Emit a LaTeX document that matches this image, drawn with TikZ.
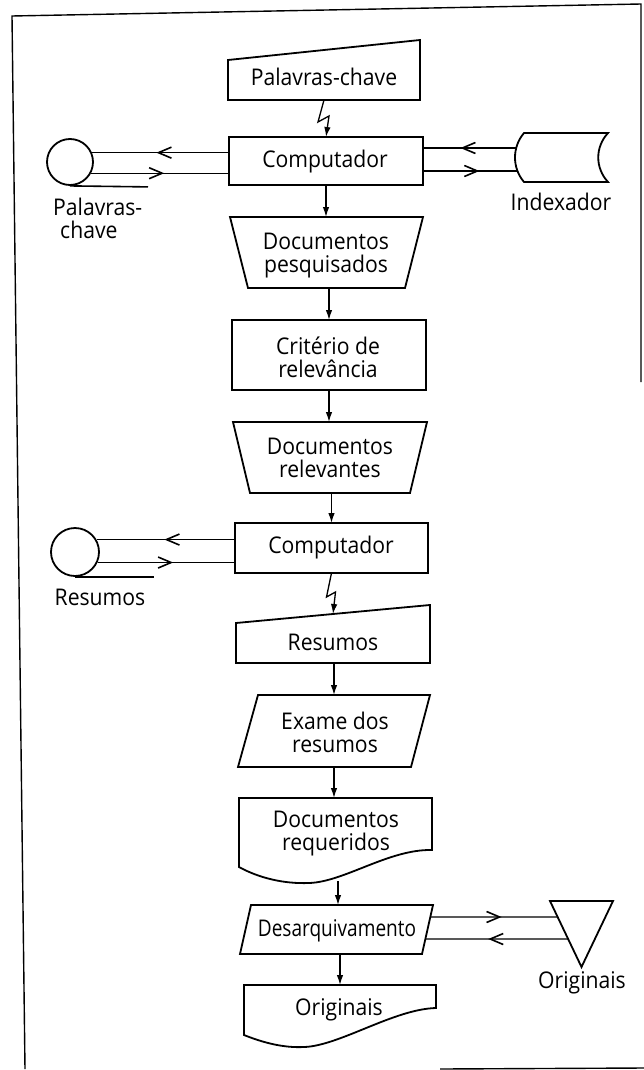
\documentclass[tikz,border=0pt]{standalone}
\usepackage{fontspec}
\usepackage{graphicx}
\setmainfont{Open Sans}[FakeStretch=0.92]
\usetikzlibrary{arrows.meta,calc,decorations.markings}
\begin{document}
\begin{tikzpicture}[x=1pt,y=-1pt,
  shp/.style={draw,line width=1.8pt,line join=miter},
  conn/.style={line width=1.3pt},
  varr/.style={conn,-{Latex[length=10pt,width=6.5pt]}},
  midarr/.style={conn,postaction={decorate},decoration={markings,mark=at position #1 with {\arrow{Straight Barb[length=13pt,width=11pt,line width=1.6pt]}}}},
  frameline/.style={line width=1.4pt},
  area/.style={inner sep=0pt,outer sep=0pt,draw=none,rectangle},
  txt/.style={font=\fontsize{23}{23}\selectfont,align=center,inner sep=0pt},
]
\useasboundingbox (0,0) rectangle (644,1070);

% frame
\draw[frameline] (25,1069) -- (12,16) -- (641,4) -- (641,382);
\draw[frameline] (440,1069) -- (644,1068);

% ---------- areas of the symbols ----------
\node[area,minimum width=192pt,minimum height=60pt] (pal) at (324,70) {};
\node[area,minimum width=194pt,minimum height=48pt] (comp1) at (326,161) {};
\node[area,minimum width=193pt,minimum height=71pt] (dp) at (326.5,252.5) {};
\node[area,minimum width=194pt,minimum height=70pt] (crit) at (329,355) {};
\node[area,minimum width=194pt,minimum height=71pt] (drel) at (330,457.5) {};
\node[area,minimum width=193pt,minimum height=50pt] (comp2) at (331.5,548) {};
\node[area,minimum width=194pt,minimum height=58pt] (res) at (333,634) {};
\node[area,minimum width=192pt,minimum height=72pt] (ex) at (334,731) {};
\node[area,minimum width=193pt,minimum height=85pt] (dreq) at (335.5,840.5) {};
\node[area,minimum width=193pt,minimum height=49pt] (ds) at (336.5,929.5) {};
\node[area,minimum width=192pt,minimum height=62pt] (orig) at (340,1016) {};
\node[area,minimum width=93pt,minimum height=49pt] (idx) at (561.5,157.5) {};
\node[area,minimum width=63pt,minimum height=66pt] (tri) at (581.5,934) {};
\node[draw,circle,line width=1.8pt,minimum size=46pt,inner sep=0pt] (tape1) at (70,162) {};
\node[draw,circle,line width=1.8pt,minimum size=48pt,inner sep=0pt] (tape2) at (75,552) {};

% ---------- symbol outlines ----------
\draw[shp] (pal.south west) -- (pal.south east) -- (pal.north east) -- ($(pal.north west)+(0,20)$) -- cycle;
\draw[shp] (comp1.south west) rectangle (comp1.north east);
\draw[shp] (dp.north west) -- (dp.north east) -- ($(dp.south east)+(-18,0)$) -- ($(dp.south west)+(18,0)$) -- cycle;
\draw[shp] (crit.south west) rectangle (crit.north east);
\draw[shp] (drel.north west) -- (drel.north east) -- ($(drel.south east)+(-17,0)$) -- ($(drel.south west)+(17,0)$) -- cycle;
\draw[shp] (comp2.south west) rectangle (comp2.north east);
\draw[shp] (res.south west) -- (res.south east) -- (res.north east) -- ($(res.north west)+(0,18)$) -- cycle;
\draw[shp] ($(ex.north west)+(20,0)$) -- (ex.north east) -- ($(ex.south east)+(-19,0)$) -- (ex.south west) -- cycle;
\draw[shp] (dreq.north west) -- (dreq.north east) -- ($(dreq.south west)+(193,-33)$)
   .. controls ($(dreq.south west)+(150,-34)$) and ($(dreq.south west)+(105,-1)$) .. ($(dreq.south west)+(70,0)$)
   .. controls ($(dreq.south west)+(45,1)$) and ($(dreq.south west)+(20,-5)$) .. ($(dreq.south west)+(0,-16)$) -- cycle;
\coordinate (dsSE) at ($(ds.south east)+(-11,0)$);
\draw[shp] ($(ds.north west)+(11,0)$) -- (ds.north east) -- (dsSE) -- (ds.south west) -- cycle;
\draw[shp] (orig.north west) -- (orig.north east) -- ($(orig.south west)+(192,-39)$)
   .. controls ($(orig.south west)+(150,-38)$) and ($(orig.south west)+(95,-1)$) .. ($(orig.south west)+(60,0)$)
   .. controls ($(orig.south west)+(40,1)$) and ($(orig.south west)+(20,-4)$) .. ($(orig.south west)+(0,-12)$) -- cycle;
\draw[shp] ($(idx.north west)+(9,0)$) -- (idx.north east)
   .. controls ($(idx.north east)+(-13,14)$) and ($(idx.south east)+(-13,-14)$) .. (idx.south east)
   -- ($(idx.south west)+(9,0)$)
   .. controls ($(idx.south west)+(-3,-14)$) and ($(idx.north west)+(-3,14)$) .. ($(idx.north west)+(9,0)$) -- cycle;
\draw[shp] (tri.north west) -- (tri.north east) -- (tri.south) -- cycle;
\draw[conn,line width=1.6pt] (tape1.south) -- ++(78,1);
\draw[conn,line width=1.6pt] (tape2.south) -- ++(79,0);

% ---------- texts ----------
\node[txt] (palt) at (324,77) {Palavras-chave};
\node[txt] (comp1t) at (325,162) {Computador};
\node[txt] (dpt) at (326,256) {Documentos\\pesquisados};
\node[txt] (critt) at (328,357) {Critério de\\relevância};
\node[txt] (drelt) at (330,458) {Documentos\\relevantes};
\node[txt] (comp2t) at (331,548) {Computador};
\node[txt] (rest) at (333,642) {Resumos};
\node[txt] (ext) at (335,732) {Exame dos\\resumos};
\node[txt] (dreqt) at (336,834) {Documentos\\requeridos};
\node[txt] (dst) at (337,931) {\scalebox{0.9}[1]{Desarquivamento}};
\node[txt] (origt) at (339,1010) {Originais};
\node[txt,align=left,anchor=west] (lab1) at (53,218) {Palavras-\\\hspace*{7pt}chave};
\node[txt] (lab2) at (100,597) {Resumos};
\node[txt] (lab3) at (561,202) {Indexador};
\node[txt] (lab4) at (582,983) {Originais};

% ---------- connectors ----------
\draw[varr] (pal.south) -- ++(-6,22) -- ++(11,-6) -- (comp1.north);
\draw[varr] (comp1.south) -- (comp1.south |- dp.north);
\draw[varr] (crit.north |- dp.south) -- (crit.north);
\draw[varr] (crit.south) -- (crit.south |- drel.north);
\draw[varr] (comp2.north |- drel.south) -- (comp2.north);
\coordinate (resTop) at ($(res.north)+(0,9)$);
\draw[varr] (comp2.south) -- ++(-5,24) -- ++(9,-5) -- (resTop);
\draw[varr] (ex.north |- res.south) -- (ex.north);
\draw[varr] (ex.south) -- (ex.south |- dreq.north);
\coordinate (dreqB) at ($(dreq.south west)+(99,-2)$);
\draw[varr] (dreqB) -- (dreqB |- ds.north);
\draw[varr] (orig.north |- ds.south) -- (orig.north);

% tape 1 <-> computador
\draw[midarr=0.53] (tape1.23 -| comp1.west) -- (tape1.23);
\draw[midarr=0.53] (tape1.-28) -- (tape1.-28 -| comp1.west);
% indexador <-> computador
\coordinate (iU) at ($(idx.west)+(1.5,-9.5)$);
\coordinate (iL) at ($(idx.west)+(2,13.5)$);
\draw[midarr=0.6] (iU) -- (iU -| comp1.east);
\draw[midarr=0.6] (iL -| comp1.east) -- (iL);
% tape 2 <-> computador
\draw[midarr=0.51] (tape2.30 -| comp2.west) -- (tape2.30);
\draw[midarr=0.55] (tape2.-25) -- (tape2.-25 -| comp2.west);
% desarquivamento <-> originais
\coordinate (dU) at ($(ds.north east)!0.245!(dsSE)$);
\coordinate (dL) at ($(ds.north east)!0.694!(dsSE)$);
\coordinate (tU) at ($(tri.north west)!0.242!(tri.south)$);
\coordinate (tL) at ($(tri.north west)!0.576!(tri.south)$);
\draw[midarr=0.56] (dU) -- (tU);
\draw[midarr=0.56] (tL) -- (dL);
\end{tikzpicture}
\end{document}
